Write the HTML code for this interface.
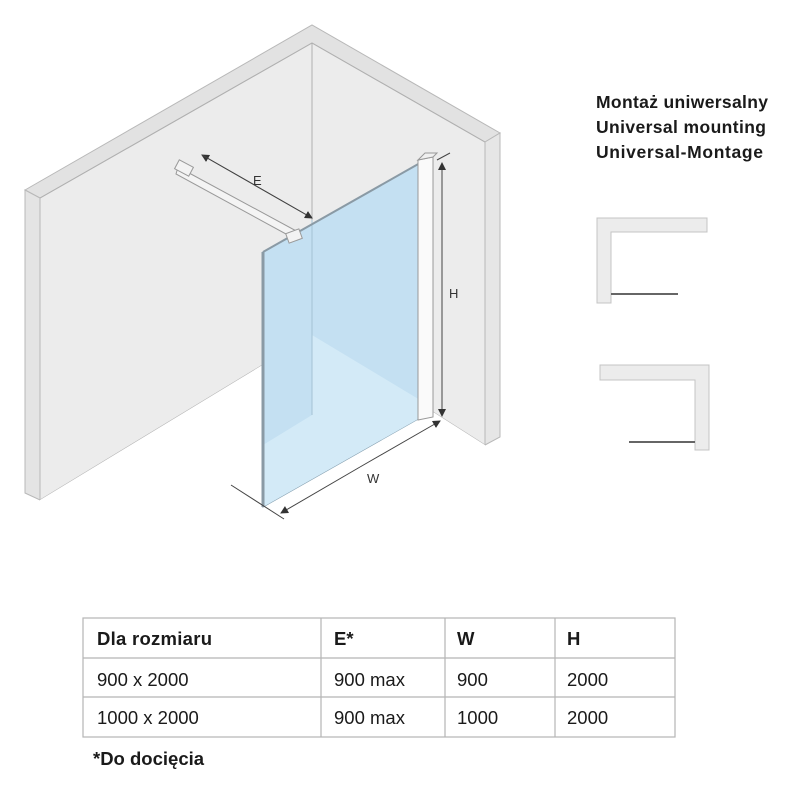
<!DOCTYPE html>
<html><head><meta charset="utf-8"><style>
html,body{margin:0;padding:0;background:#fff;}
body{width:800px;height:791px;position:relative;overflow:hidden;font-family:"Liberation Sans",sans-serif;}
svg{position:absolute;left:0;top:0;}
</style></head><body>
<svg width="800" height="791" viewBox="0 0 800 791">
<defs>
<marker id="a" markerWidth="8" markerHeight="8" refX="7" refY="4" orient="auto" markerUnits="userSpaceOnUse"><path d="M0,0 L8,4 L0,8z" fill="#333"/></marker>
</defs>
<polygon points="40,198 312,43 485,142 485,445 312,335 40,500" fill="#ececec"/>
<polygon points="25,190 312,25 500,133 485,142 312,43 40,198" fill="#e2e2e2" stroke="#b8b8b8" stroke-width="1"/>
<polygon points="25,190 40,198 40,500 25,493" fill="#e4e4e4" stroke="#b8b8b8" stroke-width="1"/>
<polygon points="485,142 500,133 500,437 485,445" fill="#e6e6e6" stroke="#b8b8b8" stroke-width="1"/>
<g stroke="#b0b0b0" stroke-width="1" fill="none">
<line x1="312" y1="43" x2="312" y2="335"/>
<line x1="312" y1="335" x2="40" y2="500"/>
<line x1="312" y1="335" x2="485" y2="445"/>
<line x1="40" y1="198" x2="312" y2="43"/>
<line x1="312" y1="43" x2="485" y2="142"/>
</g>
<polygon points="40,500 312,335 485,445 485,600 40,600" fill="#fff"/>
<polygon points="263,252 420,163 420,418 263,507" fill="#c4e0f2" stroke="#7f9aab" stroke-width="1"/>
<polygon points="263,445 312,415 312,335 420,400 420,418 263,507" fill="#d3eaf7"/>
<line x1="312" y1="220" x2="312" y2="415" stroke="#a5c2d4" stroke-width="1"/>
<line x1="263" y1="252" x2="263" y2="507" stroke="#8a9aa5" stroke-width="3"/>
<line x1="263" y1="252" x2="420" y2="163" stroke="#8a9aa5" stroke-width="2"/>
<polygon points="418,160 433,157 433,417 418,420" fill="#fafafa" stroke="#999" stroke-width="1"/>
<polygon points="418,160 425,153 437,153 433,157" fill="#f0f0f0" stroke="#999" stroke-width="1"/>
<polygon points="178,167 300,233 297,240 176,174" fill="#f4f4f4" stroke="#999" stroke-width="1"/>
<rect x="176" y="163" width="16" height="10" fill="#f3f3f3" stroke="#999" transform="rotate(28 184 168)"/>
<rect x="287" y="231" width="14" height="10" fill="#f3f3f3" stroke="#999" transform="rotate(-20 294 236)"/>
<g stroke="#444" stroke-width="1" fill="none">
<line x1="312" y1="218" x2="202" y2="155" marker-end="url(#a)"/>
<line x1="202" y1="155" x2="312" y2="218" marker-end="url(#a)"/>
<line x1="442" y1="290" x2="442" y2="163" marker-end="url(#a)"/>
<line x1="442" y1="290" x2="442" y2="416" marker-end="url(#a)"/>
<line x1="360" y1="467" x2="281" y2="513" marker-end="url(#a)"/>
<line x1="360" y1="467" x2="440" y2="421" marker-end="url(#a)"/>
<line x1="231" y1="485" x2="284" y2="519"/>
<line x1="437" y1="160" x2="450" y2="153"/>
</g>
<g font-family="Liberation Sans, sans-serif" font-size="13" fill="#333">
<text x="253" y="185">E</text>
<text x="449" y="298">H</text>
<text x="367" y="483">W</text>
</g>
<path d="M597,218 H707 V232 H611 V303 H597 Z" fill="#ececec" stroke="#c4c4c4"/>
<line x1="611" y1="294" x2="678" y2="294" stroke="#666" stroke-width="2"/>
<path d="M600,365 H709 V450 H695 V380 H600 Z" fill="#ececec" stroke="#c4c4c4"/>
<line x1="629" y1="442" x2="695" y2="442" stroke="#666" stroke-width="2"/>
<g stroke="#b5b5b5" stroke-width="1.2" fill="none">
<rect x="83" y="618" width="592" height="119"/>
<line x1="83" y1="658" x2="675" y2="658"/>
<line x1="83" y1="697" x2="675" y2="697"/>
<line x1="321" y1="618" x2="321" y2="737"/>
<line x1="445" y1="618" x2="445" y2="737"/>
<line x1="555" y1="618" x2="555" y2="737"/>
</g>
<g font-family="Liberation Sans, sans-serif" font-size="18.5" fill="#1a1a1a">
<text x="97" y="645" font-weight="bold" textLength="115">Dla rozmiaru</text>
<text x="334" y="645" font-weight="bold">E*</text>
<text x="457" y="645" font-weight="bold">W</text>
<text x="567" y="645" font-weight="bold">H</text>
<text x="97" y="686">900 x 2000</text>
<text x="334" y="686">900 max</text>
<text x="457" y="686">900</text>
<text x="567" y="686">2000</text>
<text x="97" y="724">1000 x 2000</text>
<text x="334" y="724">900 max</text>
<text x="457" y="724">1000</text>
<text x="567" y="724">2000</text>
<text x="93" y="765" font-weight="bold">*Do docięcia</text>
<text x="596" y="108" font-weight="bold" font-size="17.5" textLength="172">Montaż uniwersalny</text>
<text x="596" y="133" font-weight="bold" font-size="17.5" textLength="170">Universal mounting</text>
<text x="596" y="158" font-weight="bold" font-size="17.5" textLength="167">Universal-Montage</text>
</g>
</svg>
</body></html>
